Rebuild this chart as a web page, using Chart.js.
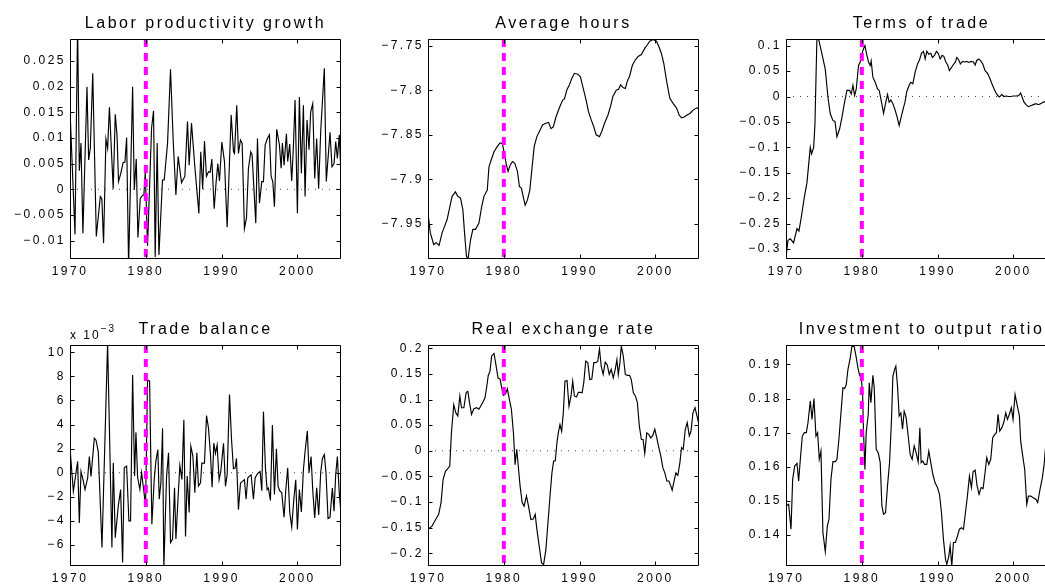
<!DOCTYPE html>
<html>
<head>
<meta charset="utf-8">
<script src="https://cdn.jsdelivr.net/npm/chart.js@4.4.0/dist/chart.umd.min.js"></script>
<style>
  html, body { margin: 0; padding: 0; background: #fff; }
  body { width: 1045px; height: 585px; overflow: hidden; position: relative; }
  .panel { position: absolute; }
</style>
</head>
<body>
<div class="panel" style="left:0px;top:0px"><canvas id="c1" width="351" height="289"></canvas></div>
<div class="panel" style="left:358px;top:0px"><canvas id="c2" width="351" height="289"></canvas></div>
<div class="panel" style="left:716px;top:0px"><canvas id="c3" width="351" height="289"></canvas></div>
<div class="panel" style="left:0px;top:306px"><canvas id="c4" width="351" height="290"></canvas></div>
<div class="panel" style="left:358px;top:306px"><canvas id="c5" width="351" height="290"></canvas></div>
<div class="panel" style="left:716px;top:306px"><canvas id="c6" width="351" height="290"></canvas></div>
<script>
// ===== DATA (quarterly) =====
const xTickYears = [1970, 1980, 1990, 2000];
const breakYear = 1980;

const prodYears = [
  1970.0,1970.66,1971.0,1971.23,1971.45,1971.7,1972.24,1972.46,1972.68,1973.0,
  1973.47,1974.0,1974.2,1974.43,1974.74,1974.96,1975.2,1975.7,1975.97,1976.2,
  1976.4,1976.7,1977.0,1977.25,1977.47,1977.73,1978.26,1978.48,1978.74,1978.96,
  1979.27,1979.57,1979.75,1979.93,1980.23,1980.76,1981.02,1981.24,1981.5,1981.73,
  1982.2,1982.43,1982.87,1983.26,1983.61,1983.97,1984.27,1984.71,1985.15,1985.5,
  1985.72,1986.03,1986.47,1987.0,1987.25,1987.5,1987.74,1988.0,1988.27,1988.49,
  1988.71,1989.02,1989.28,1989.5,1989.72,1990.03,1990.38,1990.73,1991.26,1991.57,
  1991.7,1992.0,1992.22,1992.49,1992.71,1993.01,1993.28,1993.54,1993.85,1994.02,
  1994.51,1994.73,1994.99,1995.3,1995.52,1995.74,1996.04,1996.31,1996.53,1996.75,
  1996.97,1997.27,1997.63,1997.85,1998.02,1998.24,1998.55,1998.72,1998.98,1999.25,
  1999.47,1999.69,2000.0,2000.26,2000.52,2000.79,2001.01,2001.27,2001.53,2001.75,
  2002.02,2002.28,2002.54,2002.8,2003.07,2003.55,2003.81,2004.3,2004.56,2004.83,
  2005.05,2005.27,2005.53,2005.75
];
const prodGrowth = [
  0.0155,-0.0088,0.032,0.0036,0.009,-0.0086,0.020,0.0057,0.008,0.0226,
  -0.0092,-0.0014,-0.0019,-0.0105,0.0098,0.008,0.016,0.0001,0.0146,0.0106,
  0.0015,0.0031,0.0052,0.0053,0.0101,-0.015,0.020,-0.0001,0.0059,-0.0094,
  -0.0018,-0.0012,-0.0011,0.0034,-0.011,0.0119,0.0153,-0.0132,0.009,-0.0128,
  0.0018,0.0018,0.009,0.0234,0.0096,-0.0011,0.0064,0.0013,0.0025,0.0132,
  0.0047,0.0129,0.0044,-0.0047,0.0073,0.0,0.0094,0.0025,0.0034,0.0033,
  0.0059,-0.0038,0.0015,0.005,0.0016,0.0092,0.0054,-0.0074,0.0145,0.0073,
  0.007,0.0164,0.007,0.0096,0.009,-0.0077,-0.0056,0.0041,0.0073,0.0067,
  -0.0066,0.0099,-0.0027,0.0015,0.0015,0.0086,0.0099,0.0106,0.0025,0.0015,
  -0.0034,0.0117,0.0086,0.0041,0.009,0.0047,0.0108,0.0054,0.0088,0.0016,
  0.0083,0.0174,-0.0047,0.018,0.0031,0.0164,-0.0014,0.0135,0.0077,0.0151,
  0.0167,0.0021,0.0099,0.0001,0.0112,0.0236,0.0015,0.0111,0.0044,0.005,
  0.0093,0.006,0.0106,0.0028
];
const prodTicks = [-0.01, -0.005, 0, 0.005, 0.01, 0.015, 0.02, 0.025];

const hoursYears = [
  1970.0,1970.31,1970.75,1971.1,1971.46,1971.86,1972.17,1972.52,1972.87,1973.18,
  1973.62,1973.93,1974.29,1974.6,1974.82,1975.08,1975.3,1975.61,1975.92,1976.27,
  1976.72,1977.07,1977.38,1977.82,1978.04,1978.35,1978.71,1979.15,1979.5,1979.81,
  1980.03,1980.3,1980.56,1980.83,1981.14,1981.45,1981.8,1982.06,1982.33,1982.55,
  1982.82,1983.12,1983.43,1983.7,1984.01,1984.36,1984.71,1985.11,1985.55,1985.91,
  1986.22,1986.53,1986.88,1987.32,1987.76,1987.99,1988.34,1988.65,1988.96,1989.31,
  1989.75,1990.11,1990.42,1990.86,1991.17,1991.52,1991.87,1992.18,1992.62,1992.93,
  1993.29,1993.73,1994.08,1994.39,1994.83,1995.14,1995.41,1995.72,1996.03,1996.29,
  1996.6,1996.96,1997.35,1997.71,1998.15,1998.59,1998.94,1999.25,1999.7,2000.14,
  2000.45,2000.8,2001.11,2001.46,2001.9,2002.35,2002.79,2003.14,2003.45,2003.8,
  2004.11,2004.56,2005.0,2005.44,2005.75
];
const avgHours = [
  -7.938,-7.960,-7.973,-7.971,-7.974,-7.960,-7.953,-7.945,-7.931,-7.919,
  -7.914,-7.919,-7.921,-7.934,-7.960,-7.987,-7.988,-7.968,-7.956,-7.956,
  -7.949,-7.931,-7.919,-7.912,-7.886,-7.878,-7.869,-7.863,-7.859,-7.860,
  -7.869,-7.882,-7.891,-7.884,-7.880,-7.882,-7.891,-7.908,-7.910,-7.919,
  -7.929,-7.923,-7.912,-7.889,-7.863,-7.852,-7.846,-7.839,-7.837,-7.836,
  -7.843,-7.841,-7.830,-7.820,-7.811,-7.810,-7.799,-7.794,-7.787,-7.781,
  -7.782,-7.785,-7.796,-7.811,-7.824,-7.833,-7.841,-7.850,-7.852,-7.846,
  -7.837,-7.828,-7.818,-7.807,-7.800,-7.799,-7.794,-7.797,-7.798,-7.790,
  -7.784,-7.772,-7.766,-7.762,-7.760,-7.753,-7.749,-7.745,-7.743,-7.745,
  -7.751,-7.759,-7.770,-7.789,-7.809,-7.815,-7.820,-7.828,-7.831,-7.830,
  -7.828,-7.826,-7.822,-7.820,-7.820
];
const hoursTicks = [-7.95, -7.9, -7.85, -7.8, -7.75];

const totYears = [
  1970.0,1970.26,1970.57,1971.0,1971.45,1971.71,1972.02,1972.42,1972.77,1973.2,
  1973.38,1973.65,1973.82,1974.08,1974.35,1974.74,1975.18,1975.53,1975.84,1976.19,
  1976.46,1976.72,1977.07,1977.38,1977.69,1978.04,1978.39,1978.61,1978.83,1979.05,
  1979.27,1979.57,1979.79,1980.01,1980.23,1980.41,1980.67,1980.89,1981.11,1981.24,
  1981.46,1981.77,1982.08,1982.3,1982.56,1982.87,1983.13,1983.39,1983.61,1983.83,
  1984.1,1984.36,1984.62,1984.93,1985.2,1985.5,1985.68,1985.94,1986.25,1986.47,
  1986.73,1987.04,1987.35,1987.61,1987.87,1988.14,1988.36,1988.58,1988.84,1989.1,
  1989.32,1989.59,1989.85,1990.11,1990.33,1990.6,1990.82,1991.08,1991.34,1991.56,
  1991.87,1992.09,1992.35,1992.53,1992.79,1993.01,1993.28,1993.54,1993.85,1994.15,
  1994.42,1994.73,1994.95,1995.16,1995.43,1995.69,1995.96,1996.26,1996.57,1996.83,
  1997.14,1997.45,1997.71,1997.93,1998.15,1998.46,1998.77,1999.03,1999.34,1999.64,
  2000.0,2000.35,2000.7,2000.96,2001.14,2001.4,2001.66,2001.97,2002.28,2002.63,
  2002.98,2003.29,2003.6,2003.95,2004.17,2004.5,2004.8,2005.1,2005.4,2005.75
];
const termsOfTrade = [
  -0.316,-0.283,-0.28,-0.288,-0.26,-0.265,-0.237,-0.198,-0.169,-0.1,
  -0.113,-0.1,-0.054,0.117,0.11,0.084,0.054,-0.001,-0.034,-0.047,
  -0.049,-0.079,-0.064,-0.041,-0.014,0.012,0.012,0.005,0.022,0.002,
  0.015,0.061,0.068,0.084,0.094,0.1,0.081,0.068,0.061,0.07,
  0.038,0.028,0.015,0.012,-0.008,-0.033,-0.014,0.004,-0.011,-0.007,
  -0.014,-0.025,-0.038,-0.057,-0.04,-0.022,-0.012,0.01,0.022,0.028,
  0.025,0.048,0.064,0.072,0.085,0.089,0.074,0.089,0.083,0.085,
  0.077,0.081,0.089,0.084,0.074,0.081,0.079,0.068,0.062,0.051,
  0.058,0.063,0.068,0.077,0.072,0.064,0.069,0.068,0.069,0.067,
  0.069,0.068,0.062,0.071,0.074,0.07,0.064,0.051,0.046,0.038,
  0.026,0.015,0.007,0.002,-0.001,0.004,0.0,0.001,0.0,0.0,
  0.001,0.001,0.002,0.007,-0.001,-0.011,-0.016,-0.02,-0.018,-0.016,
  -0.014,-0.016,-0.014,-0.011,-0.01,-0.012,-0.009,-0.013,-0.008,-0.006
];
const totTicks = [-0.3, -0.25, -0.2, -0.15, -0.1, -0.05, 0, 0.05, 0.1];

const tbYears = [
  1970.0,1970.44,1971.01,1971.23,1971.45,1971.76,1971.98,1972.11,1972.33,1972.55,
  1972.77,1973.21,1973.43,1973.73,1974.22,1974.96,1975.53,1975.71,1975.97,1976.37,
  1976.68,1976.94,1977.16,1977.47,1977.77,1977.99,1978.26,1978.52,1978.7,1978.92,
  1979.22,1979.44,1979.66,1979.97,1980.23,1980.5,1980.8,1981.11,1981.33,1981.59,
  1981.77,1981.99,1982.21,1982.38,1982.74,1983.0,1983.26,1983.53,1983.79,1983.97,
  1984.27,1984.49,1984.76,1985.02,1985.24,1985.46,1985.72,1985.94,1986.21,1986.47,
  1986.73,1986.95,1987.22,1987.39,1987.74,1988.01,1988.27,1988.53,1988.75,1988.97,
  1989.19,1989.41,1989.67,1989.89,1990.25,1990.51,1990.73,1991.04,1991.3,1991.56,
  1991.78,1991.96,1992.22,1992.49,1992.75,1993.01,1993.23,1993.45,1993.63,1993.89,
  1994.2,1994.42,1994.64,1994.86,1995.08,1995.3,1995.52,1995.78,1996.0,1996.17,
  1996.44,1996.7,1996.97,1997.23,1997.45,1997.67,1997.93,1998.24,1998.46,1998.72,
  1998.99,1999.25,1999.51,1999.78,2000.0,2000.26,2000.52,2000.79,2001.01,2001.31,
  2001.53,2001.8,2002.02,2002.28,2002.54,2002.81,2003.07,2003.29,2003.55,2003.77,
  2004.04,2004.3,2004.61,2004.83,2005.05,2005.27,2005.53,2005.75
];
// trade balance in units of 1e-3
const tradeBalance = [
  2.04,-1.54,0.94,-4.16,0.1,-0.7,-1.4,-1.4,-0.44,1.35,
  -0.3,2.87,2.7,1.76,-6.2,10.8,-6.2,0.83,-5.4,-2.75,
  -1.4,-7.44,0.4,0.55,-4.0,-4.0,8.1,-0.28,3.36,-0.4,
  -1.38,0,-1.1,-2.75,7.7,7.6,-4.27,-0.55,0.96,1.93,
  -2.2,-0.83,3.7,-7.9,-0.28,1.65,-5.8,-5.5,-1.24,-5.5,
  -1.93,0.6,-0.55,4.4,-5.3,-0.28,-3.3,2.2,1.38,-1.65,
  1.65,-1.1,-0.83,0.8,0.8,4.74,3.7,1.5,-1.2,2.45,
  1.6,2.3,-0.58,0.1,2.45,-1.13,-0.15,6.5,2.86,0.33,
  0.38,1.2,-3.06,-0.85,-0.72,-0.58,-2.2,-0.44,-0.3,-0.17,
  -2.2,-0.44,-0.17,0,0.1,-1.5,5.07,0.4,-1.4,-1.27,
  -2.3,3.97,-1.8,1.98,-1.13,-1.5,-1.65,-3.7,-1.5,0.4,
  -3.3,-4.5,-2.3,-0.58,-4.7,-1.4,-3.25,0.25,1.76,3.47,
  0,1.35,-1.4,-3.75,-1.24,-3.5,0,1.16,1.5,0,
  -3.8,-3.7,-1.27,-3.2,-0.17,1.35,-1.8,-3.3
];
const tbTicks = [-6, -4, -2, 0, 2, 4, 6, 8, 10];

const rerYears = [
  1970.0,1970.53,1970.97,1971.41,1971.72,1971.99,1972.3,1972.61,1972.87,1973.09,
  1973.4,1973.67,1973.93,1974.2,1974.42,1974.73,1975.04,1975.26,1975.48,1975.74,
  1976.05,1976.41,1976.72,1976.94,1977.25,1977.51,1977.73,1977.95,1978.17,1978.4,
  1978.71,1978.97,1979.24,1979.5,1979.72,1979.94,1980.21,1980.47,1980.74,1981.0,
  1981.27,1981.49,1981.71,1981.93,1982.15,1982.42,1982.68,1982.99,1983.26,1983.57,
  1983.88,1984.14,1984.36,1984.67,1984.98,1985.25,1985.55,1985.86,1986.13,1986.35,
  1986.57,1986.79,1987.01,1987.19,1987.41,1987.63,1987.85,1988.07,1988.34,1988.6,
  1988.87,1989.09,1989.31,1989.58,1989.84,1990.11,1990.33,1990.55,1990.81,1991.08,
  1991.34,1991.61,1991.87,1992.14,1992.4,1992.62,1992.85,1993.11,1993.38,1993.64,
  1993.91,1994.17,1994.44,1994.7,1994.92,1995.1,1995.32,1995.5,1995.76,1996.03,
  1996.29,1996.6,1996.82,1997.09,1997.35,1997.62,1997.88,1998.15,1998.37,1998.59,
  1998.86,1999.12,1999.39,1999.65,1999.92,2000.18,2000.45,2000.71,2000.98,2001.24,
  2001.51,2001.77,2002.04,2002.21,2002.43,2002.7,2002.96,2003.23,2003.45,2003.67,
  2003.94,2004.2,2004.47,2004.69,2004.95,2005.22,2005.48,2005.75
];
const realExchRate = [
  -0.153,-0.147,-0.135,-0.124,-0.101,-0.056,-0.04,-0.035,-0.03,0.035,
  0.09,0.074,0.068,0.107,0.084,0.084,0.114,0.116,0.094,0.071,
  0.082,0.084,0.081,0.087,0.095,0.103,0.123,0.147,0.155,0.185,
  0.19,0.167,0.142,0.14,0.123,0.108,0.11,0.121,0.1,0.081,
  0.035,-0.027,0.003,-0.033,-0.069,-0.101,-0.108,-0.088,-0.108,-0.134,
  -0.133,-0.124,-0.153,-0.186,-0.219,-0.222,-0.193,-0.134,-0.082,-0.043,
  -0.02,-0.02,0.016,0.035,0.051,0.038,0.074,0.136,0.137,0.087,
  0.107,0.136,0.107,0.105,0.114,0.114,0.113,0.133,0.175,0.172,
  0.139,0.14,0.172,0.172,0.175,0.199,0.165,0.149,0.173,0.168,
  0.149,0.159,0.142,0.159,0.178,0.149,0.172,0.204,0.185,0.149,
  0.147,0.147,0.139,0.113,0.107,0.094,0.048,0.022,0.022,-0.005,
  0.035,0.032,0.025,0.03,0.042,0.025,0.006,-0.01,-0.033,-0.043,
  -0.059,-0.059,-0.069,-0.077,-0.061,-0.043,-0.048,-0.023,0.006,0.003,
  0.042,0.055,0.029,0.038,0.074,0.084,0.068,0.051
];
const rerTicks = [-0.2, -0.15, -0.1, -0.05, 0, 0.05, 0.1, 0.15, 0.2];

const invYears = [
  1970.0,1970.35,1970.66,1970.88,1971.14,1971.45,1971.67,1971.89,1972.15,1972.42,
  1972.68,1972.9,1973.21,1973.43,1973.69,1973.95,1974.17,1974.39,1974.61,1974.87,
  1975.18,1975.45,1975.67,1975.93,1976.19,1976.5,1976.72,1976.98,1977.25,1977.51,
  1977.73,1977.95,1978.17,1978.48,1978.7,1979.0,1979.27,1979.49,1979.71,1979.93,
  1980.1,1980.23,1980.41,1980.58,1980.85,1980.98,1981.2,1981.46,1981.64,1981.9,
  1982.17,1982.43,1982.65,1982.87,1983.13,1983.39,1983.66,1983.92,1984.1,1984.32,
  1984.49,1984.71,1984.93,1985.15,1985.37,1985.59,1985.85,1986.12,1986.38,1986.64,
  1986.91,1987.17,1987.44,1987.66,1987.83,1988.05,1988.27,1988.58,1988.84,1989.1,
  1989.37,1989.67,1989.98,1990.25,1990.51,1990.77,1991.04,1991.21,1991.48,1991.65,
  1991.87,1992.09,1992.35,1992.62,1992.88,1993.14,1993.41,1993.67,1993.93,1994.2,
  1994.46,1994.68,1994.95,1995.21,1995.47,1995.74,1996.0,1996.26,1996.48,1996.75,
  1997.01,1997.27,1997.54,1997.76,1997.98,1998.2,1998.46,1998.72,1998.99,1999.21,
  1999.47,1999.73,1999.95,2000.22,2000.52,2000.79,2000.96,2001.23,2001.49,2001.76,
  2001.98,2002.28,2002.63,2002.98,2003.2,2003.51,2003.82,2004.08,2004.17,2004.45,
  2004.75,2005.1,2005.4,2005.75
];
const invOutput = [
  0.1485,0.149,0.1417,0.1563,0.1602,0.161,0.1558,0.1622,0.169,0.17,
  0.17,0.1729,0.1793,0.1739,0.18,0.169,0.17,0.1622,0.1646,0.1407,
  0.1351,0.1426,0.1446,0.1563,0.1615,0.1615,0.1622,0.168,0.1758,0.1832,
  0.1829,0.1841,0.1885,0.192,0.1954,0.1952,0.192,0.189,0.1868,0.1861,
  0.1817,0.17,0.1592,0.17,0.1754,0.1846,0.1788,0.1868,0.1832,0.1651,
  0.1641,0.1612,0.1485,0.1461,0.1465,0.1544,0.1612,0.1739,0.1866,0.1885,
  0.1895,0.1837,0.1749,0.1758,0.171,0.1763,0.1744,0.169,0.1636,0.1622,
  0.1661,0.1641,0.1614,0.1714,0.1612,0.1617,0.1607,0.1607,0.1646,0.1612,
  0.1578,0.1553,0.1539,0.1519,0.1465,0.1387,0.1329,0.1314,0.1338,0.1368,
  0.1309,0.1378,0.1378,0.1397,0.1417,0.1421,0.1417,0.1465,0.1514,0.1573,
  0.1539,0.1585,0.159,0.1544,0.1519,0.1539,0.1536,0.1583,0.1627,0.1607,
  0.1622,0.1685,0.1695,0.17,0.1754,0.1705,0.1714,0.1729,0.1758,0.1739,
  0.1754,0.1773,0.1739,0.1812,0.1778,0.1749,0.1675,0.1631,0.1592,0.149,
  0.1514,0.1514,0.1509,0.1504,0.1495,0.1534,0.1568,0.1612,0.1641,0.170,
  0.172,0.169,0.171,0.168
];
const invTicks = [0.14, 0.15, 0.16, 0.17, 0.18, 0.19];

// ===== STYLE =====
const FONT = "'Liberation Sans', Arial, Helvetica, sans-serif";
const X_MIN = 1970, X_MAX = 2005.75;

// box round the axes with inward ticks on all four sides (matlab look)
const axesBox = {
  id: 'axesBox',
  beforeDraw(chart) {
    chart.ctx.letterSpacing = '2.5px';
  },
  afterDraw(chart, args, opts) {
    const ctx = chart.ctx;
    const a = chart.chartArea;
    const xs = chart.scales.x, ys = chart.scales.y;
    const L = Math.round(a.left) + 0.5, R = Math.round(a.right) - 0.5;
    const T = Math.round(a.top) + 0.5, B = Math.round(a.bottom) - 0.5;
    ctx.save();
    ctx.strokeStyle = '#000';
    ctx.lineWidth = 1;
    ctx.beginPath();
    ctx.rect(L, T, R - L, B - T);
    xs.ticks.forEach(t => {
      const px = Math.round(xs.getPixelForValue(t.value)) + 0.5;
      ctx.moveTo(px, B); ctx.lineTo(px, B - 4);
      ctx.moveTo(px, T); ctx.lineTo(px, T + 4);
    });
    ys.ticks.forEach(t => {
      const py = Math.round(ys.getPixelForValue(t.value)) + 0.5;
      ctx.moveTo(L, py); ctx.lineTo(L + 4, py);
      ctx.moveTo(R, py); ctx.lineTo(R - 4, py);
    });
    ctx.stroke();

    if (opts && opts.exponent) {
      ctx.fillStyle = '#000';
      ctx.textAlign = 'left';
      ctx.textBaseline = 'alphabetic';
      ctx.letterSpacing = '2px';
      ctx.font = '12px ' + FONT;
      ctx.fillText('x 10', a.left, a.top - 6);
      const w = ctx.measureText('x 10').width;
      ctx.font = '10px ' + FONT;
      ctx.fillText(opts.exponent, a.left + w, a.top - 13);
    }
    ctx.restore();
  }
};

function tickLabel(v) {
  return String(v).replace('-', '\u2212');
}

function drawPanel(id, title, years, values, yMin, yMax, yTicks, exponent) {
  const series = years.map((x, i) => ({ x: x, y: values[i] }));

  const datasets = [
    {
      data: [{ x: breakYear, y: yMax }, { x: breakYear, y: yMin }],
      borderColor: '#ff00ff',
      borderWidth: 4,
      borderDash: [8, 6],
      order: 0
    },
    {
      data: series,
      borderColor: '#000',
      borderWidth: 1.15,
      order: 1
    }
  ];

  if (yMin < 0 && yMax > 0) {
    datasets.push({
      data: [{ x: X_MIN, y: 0 }, { x: X_MAX, y: 0 }],
      borderColor: '#444',
      borderWidth: 1,
      borderDash: [1, 6],
      order: 2
    });
  }

  new Chart(document.getElementById(id), {
    type: 'line',
    data: { datasets: datasets },
    options: {
      responsive: false,
      animation: false,
      devicePixelRatio: 1,
      events: [],
      elements: {
        point: { radius: 0 },
        line: { tension: 0 }
      },
      layout: { padding: { left: 0, right: 10, top: 0, bottom: 0 } },
      plugins: {
        legend: { display: false },
        tooltip: { enabled: false },
        title: {
          display: true,
          fullSize: false,
          text: title,
          color: '#000',
          font: { family: FONT, size: 16, weight: 'normal', lineHeight: 1.25 },
          padding: { top: 14, bottom: 5 }
        },
        axesBox: { exponent: exponent }
      },
      scales: {
        x: {
          type: 'linear',
          min: X_MIN,
          max: X_MAX,
          grid: { display: false, drawTicks: false },
          border: { display: false },
          ticks: {
            color: '#000',
            font: { family: FONT, size: 12 },
            padding: 5,
            maxRotation: 0,
            autoSkip: false,
            callback: v => String(v)
          },
          afterBuildTicks: s => { s.ticks = xTickYears.map(v => ({ value: v })); },
          afterFit: s => { s.height = 30; }
        },
        y: {
          type: 'linear',
          min: yMin,
          max: yMax,
          grid: { display: false, drawTicks: false },
          border: { display: false },
          ticks: {
            color: '#000',
            font: { family: FONT, size: 12 },
            padding: 4,
            autoSkip: false,
            callback: v => tickLabel(v)
          },
          afterBuildTicks: s => { s.ticks = yTicks.map(v => ({ value: v })); },
          afterFit: s => { s.width = 70; }
        }
      }
    },
    plugins: [axesBox]
  });
}

drawPanel('c1', 'Labor productivity growth', prodYears, prodGrowth, -0.0136, 0.0293, prodTicks);
drawPanel('c2', 'Average hours', hoursYears, avgHours, -7.9893, -7.7425, hoursTicks);
drawPanel('c3', 'Terms of trade', totYears, termsOfTrade, -0.3197, 0.1132, totTicks);
drawPanel('c4', 'Trade balance', tbYears, tradeBalance, -7.74, 10.6, tbTicks, '\u22123');
drawPanel('c5', 'Real exchange rate', rerYears, realExchRate, -0.2248, 0.2064, rerTicks);
drawPanel('c6', 'Investment to output ratio', invYears, invOutput, 0.1309, 0.1957, invTicks);
</script>
</body>
</html>
